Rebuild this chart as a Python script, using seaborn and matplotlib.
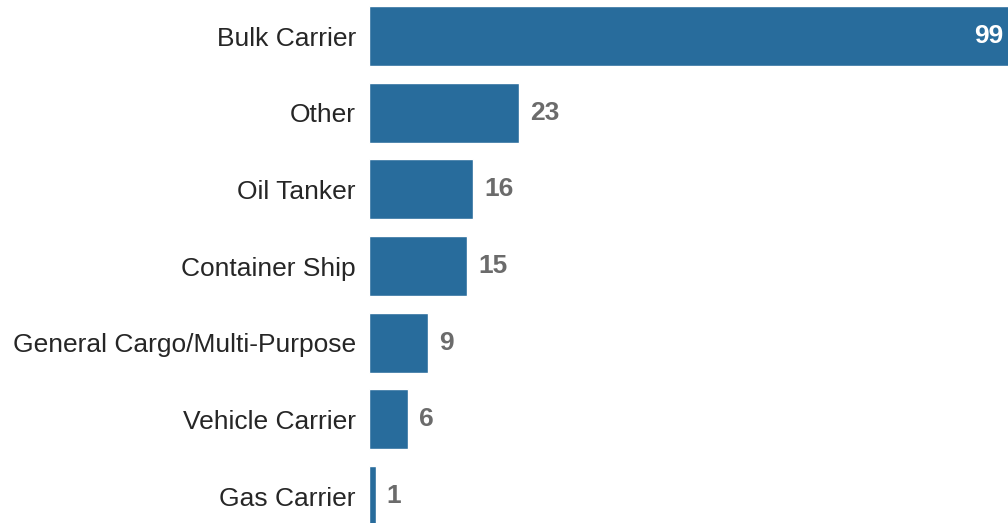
import matplotlib
matplotlib.use("Agg")
import matplotlib.pyplot as plt
import seaborn as sns
import pandas as pd

categories = ["Bulk Carrier", "Other", "Oil Tanker", "Container Ship",
              "General Cargo/Multi-Purpose", "Vehicle Carrier", "Gas Carrier"]
counts = [99, 23, 16, 15, 9, 6, 1]

df = pd.DataFrame({"category": categories, "count": counts})

sns.set_theme(style="white")
plt.rcParams["font.family"] = ["Liberation Sans", "DejaVu Sans"]

fig = plt.figure(figsize=(10.08, 5.23), dpi=100)
ax = fig.add_axes([369 / 1008, 0, (1008 - 369) / 1008, 1])

bar_color = "#286c9c"
sns.barplot(data=df, x="count", y="category", orient="h", color=bar_color,
            saturation=1, width=0.78, ax=ax)

ax.set_xlim(0, 639 / 6.53)
ax.set_ylim(6.352, -0.47)
ax.set_xlabel("")
ax.set_ylabel("")
ax.set_xticks([])
sns.despine(ax=ax, left=True, bottom=True)
ax.tick_params(axis="y", length=0, pad=9.4, labelsize=19, labelcolor="#262626")

xmax = ax.get_xlim()[1]
for i, v in enumerate(counts):
    if v > xmax * 0.5:
        ax.text(xmax - 0.7, i, f"{v}", ha="right", va="center", color="white",
                fontsize=19, fontweight="bold")
    else:
        ax.text(v + 1.7, i, f"{v}", ha="left", va="center", color="#6b6b6b",
                fontsize=19, fontweight="bold")

fig.savefig("out.png", dpi=100)
